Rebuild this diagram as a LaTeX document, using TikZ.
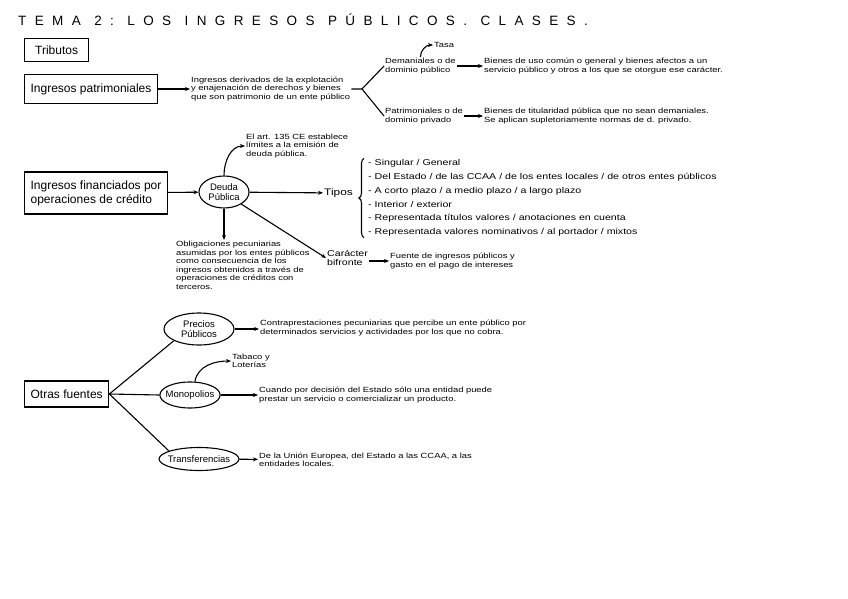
\documentclass[tikz,border=0pt]{standalone}
\usepackage{fontspec}
\setmainfont{Liberation Sans}
\newfontfamily\hand[FakeStretch=1.25]{Liberation Sans}
\newfontfamily\titlefont[LetterSpace=62]{Liberation Sans}
\usetikzlibrary{shapes.geometric,arrows.meta,decorations.pathreplacing}

\begin{document}
\begin{tikzpicture}[x=1pt,y=-1pt,
    box/.style={draw,line width=1.3pt,inner xsep=6pt,inner ysep=4pt,align=left,font=\boxfontsize},
    oval/.style={draw,ellipse,line width=1.1pt,inner xsep=-3pt,inner ysep=0pt,align=center,font=\ovalfontsize},
    note/.style={anchor=west,align=left,inner sep=1pt,font=\notefontsize},
    link/.style={line width=1.1pt},
    arr/.style={link,-{Stealth[length=5pt,width=4pt]}}]
    \providecommand{\boxfontsize}{\fontsize{12}{14}\selectfont}
    \providecommand{\ovalfontsize}{\fontsize{9.5}{10.5}\selectfont}
    \providecommand{\notefontsize}{\hand\fontsize{7.5}{8.5}\selectfont}
    \providecommand{\listfontsize}{\hand\fontsize{8.5}{13.8}\selectfont}
    \useasboundingbox (0,0) rectangle (848,599);
    \node[anchor=west,inner sep=0pt,font=\titlefont\fontsize{13.5}{15}\selectfont] (title) at (18,20)
    {TEMA\quad 2:\quad LOS\quad INGRESOS\quad PÚBLICOS.\quad CLASES.};

    % ingresos patrimoniales
    \node[box,anchor=west,minimum height=23pt,minimum width=64pt] (trib) at (24,50) {Tributos};
    \node[box,anchor=west,minimum height=29pt] (patr) at (24,89) {Ingresos patrimoniales};
    \node[note] (patrtxt) at (190,89) {Ingresos derivados de la explotación\\y enajenación de derechos y bienes\\que son patrimonio de un ente público};
    \coordinate (fork) at (362,89);
    \node[note] (dem) at (384,66) {Demaniales o de\\dominio público};
    \node[note] (pat) at (384,116) {Patrimoniales o de\\dominio privado};
    \node[note] (tasa) at (433,45) {Tasa};
    \node[note] (demtxt) at (483,66) {Bienes de uso común o general y bienes afectos a un\\servicio público y otros a los que se otorgue ese carácter.};
    \node[note] (pattxt) at (483,116) {Bienes de titularidad pública que no sean demaniales.\\Se aplican supletoriamente normas de d. privado.};
    \draw[arr] (patr) -- (patrtxt);
    \draw[link] (patrtxt.east) -- (fork) -- (dem.west);
    \draw[link] (fork) -- (pat.west);
    \draw[arr] (dem.north) to[out=90,in=180] (tasa.west);
    \draw[arr] (dem) -- (demtxt);
    \draw[arr] (pat) -- (pattxt);

    % operaciones de credito
    \node[box,anchor=west,minimum height=42pt] (fin) at (24,193) {Ingresos financiados por\\operaciones de crédito};
    \node[oval,minimum width=50pt,minimum height=32pt] (deuda) at (224,192) {Deuda\\Pública};
    \node[note] (art) at (245,146) {El art. 135 CE establece\\límites a la emisión de\\deuda pública.};
    \node[note,anchor=north west] (oblig) at (175,240) {Obligaciones pecuniarias\\asumidas por los entes públicos\\como consecuencia de los\\ingresos obtenidos a través de\\operaciones de créditos con\\terceros.};
    \node[anchor=west,inner sep=1pt,font=\hand\fontsize{9.5}{10}\selectfont] (tipos) at (323,193) {Tipos};
    \node[anchor=west,align=left,inner sep=1pt,font=\listfontsize] (list) at (367,198)
    {- Singular / General\\
     - Del Estado / de las CCAA / de los entes locales / de otros entes públicos\\
     - A corto plazo / a medio plazo / a largo plazo\\
     - Interior / exterior\\
     - Representada títulos valores / anotaciones en cuenta\\
     - Representada valores nominativos / al portador / mixtos};
    \node[note,font=\hand\fontsize{8.5}{9}\selectfont] (bif) at (326,258) {Carácter\\bifronte};
    \node[note] (biftxt) at (389,261) {Fuente de ingresos públicos y\\gasto en el pago de intereses};
    \draw[arr] (fin) -- (deuda);
    \draw[arr] (deuda.north) to[out=90,in=180] (art.west);
    \draw[arr] (deuda.south) -- (deuda.south |- oblig.north);
    \draw[arr] (deuda) -- (tipos);
    \draw[link,decorate,decoration={brace,amplitude=5pt}] ([xshift=-3pt]list.south west) -- ([xshift=-3pt]list.north west);
    \draw[arr] (deuda.-35) -- (bif.west);
    \draw[arr] (bif.east |- biftxt.west) -- (biftxt.west);

    % otras fuentes
    \node[box,anchor=west,minimum height=26pt] (otras) at (24,394) {Otras fuentes};
    \node[oval,minimum width=70pt,minimum height=32pt] (precios) at (199,329) {Precios\\Públicos};
    \node[oval,minimum width=58pt,minimum height=26pt] (mono) at (190,395) {Monopolios};
    \node[oval,minimum width=72pt,minimum height=23pt] (transf) at (199,459) {Transferencias};
    \node[note] (preciostxt) at (259,328) {Contraprestaciones pecuniarias que percibe un ente público por\\determinados servicios y actividades por los que no cobra.};
    \node[note] (tabaco) at (231,361) {Tabaco y\\Loterías};
    \node[note] (monotxt) at (258,395) {Cuando por decisión del Estado sólo una entidad puede\\prestar un servicio o comercializar un producto.};
    \node[note] (transftxt) at (258,460) {De la Unión Europea, del Estado a las CCAA, a las\\entidades locales.};
    \draw[link] (otras.east) -- (precios.205);
    \draw[link] (otras.east) -- (mono.west);
    \draw[link] (otras.east) -- (transf.165);
    \draw[arr] (precios) -- (precios -| preciostxt.west);
    \draw[arr] (mono.70) to[out=80,in=180] (tabaco.west);
    \draw[arr] (mono) -- (monotxt);
    \draw[arr] (transf) -- (transftxt);
\end{tikzpicture}
\end{document}
